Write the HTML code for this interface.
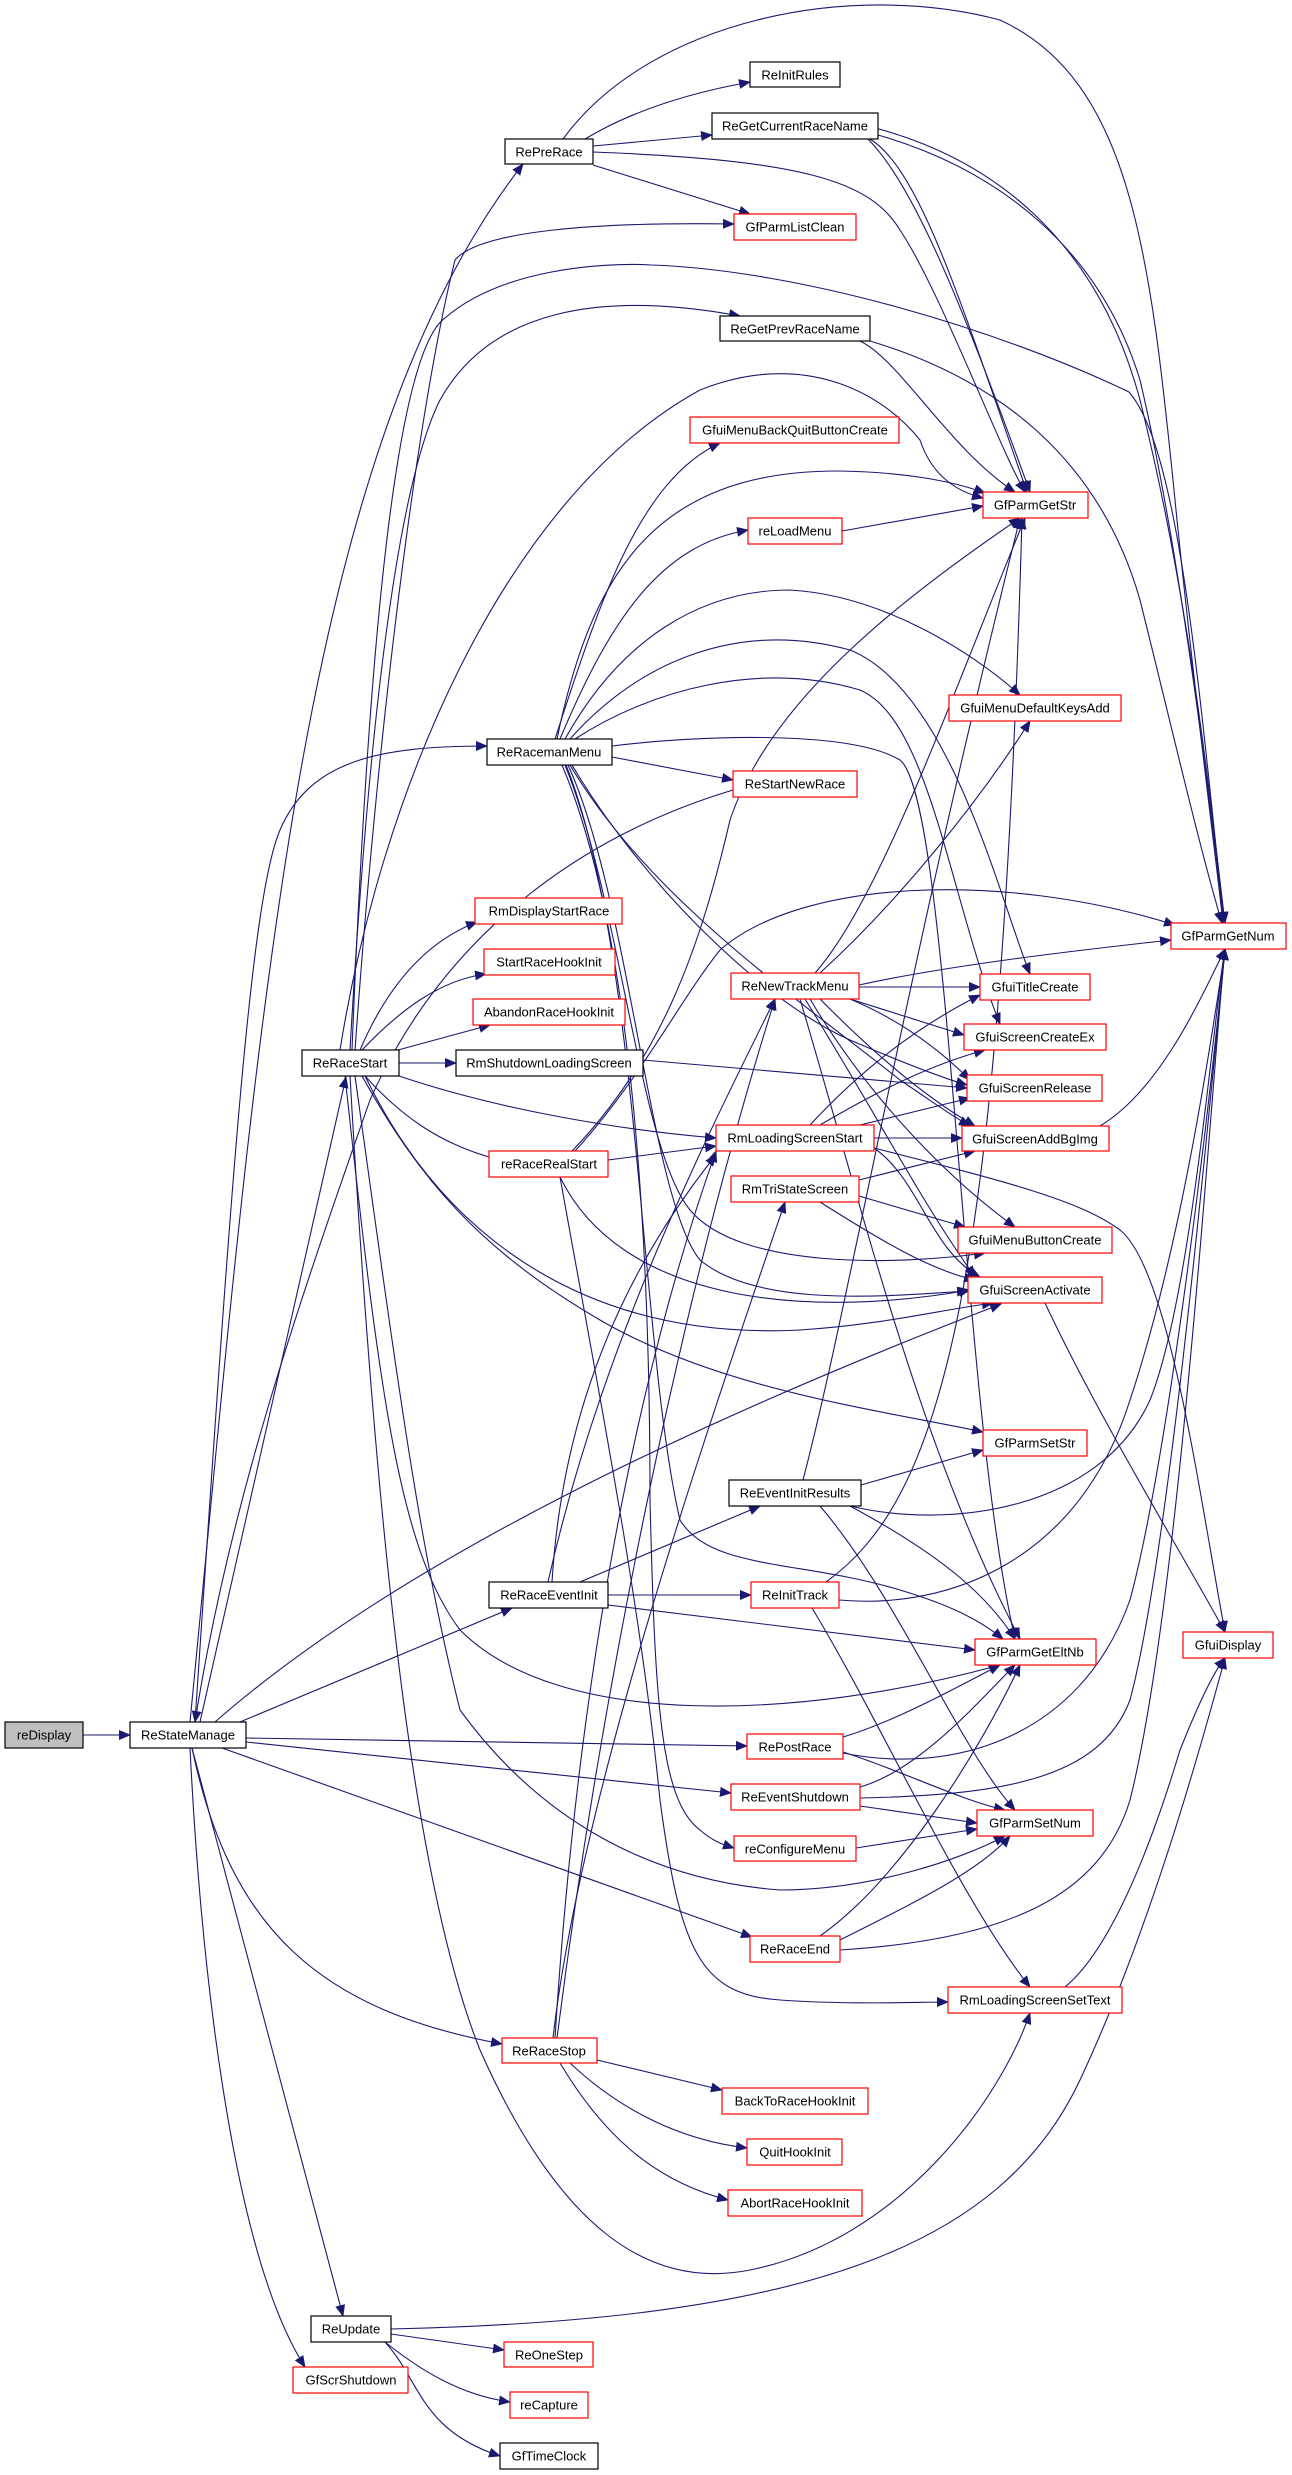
<!DOCTYPE html>
<html><head><meta charset="utf-8"><style>
html,body{margin:0;padding:0;background:#fff;}
svg{display:block;}
text{font-family:"Liberation Sans",Arial,sans-serif;font-size:13px;fill:#000;}
.e{fill:none;stroke:#191970;stroke-width:1.1;marker-end:url(#a);}
.r{fill:#fff;stroke:#ff0000;stroke-width:1.2;}
.b{fill:#fff;stroke:#000;stroke-width:1.2;}
.g{fill:#bfbfbf;stroke:#000;stroke-width:1.2;}
</style></head><body>
<svg width="1292" height="2475" viewBox="0 0 1292 2475" xmlns="http://www.w3.org/2000/svg">
<defs><marker id="a" markerUnits="userSpaceOnUse" markerWidth="12" markerHeight="10" refX="11" refY="5" orient="auto"><path d="M0,0 L12,5 L0,10 z" fill="#191970"/></marker></defs>
<g>
<path class="e" d="M83,1735 L130,1735"/>
<path class="e" d="M190,1722 C260,1000 300,450 523,164"/>
<path class="e" d="M195,1722 C230,1200 250,900 280,830 C310,760 380,746 487,746"/>
<path class="e" d="M200,1722 L346,1077"/>
<path class="e" d="M240,1722 L512,1608"/>
<path class="e" d="M215,1722 C400,1560 700,1420 1001,1304"/>
<path class="e" d="M246,1738 L747,1746"/>
<path class="e" d="M246,1742 L731,1793"/>
<path class="e" d="M222,1748 L752,1937"/>
<path class="e" d="M192,1748 C230,1930 320,2010 502,2044"/>
<path class="e" d="M192,1748 L343,2316"/>
<path class="e" d="M190,1748 C200,1950 230,2250 305,2367"/>
<path class="e" d="M391,2329 C800,2320 1000,2250 1080,2080 C1150,1930 1200,1750 1225,1658"/>
<path class="e" d="M391,2334 L504,2350"/>
<path class="e" d="M385,2342 C420,2370 460,2395 510,2402"/>
<path class="e" d="M385,2342 C420,2380 420,2430 500,2456"/>
<path class="e" d="M597,2060 L722,2090"/>
<path class="e" d="M570,2063 C620,2110 680,2140 747,2148"/>
<path class="e" d="M560,2063 C600,2130 650,2180 728,2200"/>
<path class="e" d="M553,2038 C580,1800 700,1450 785,1202"/>
<path class="e" d="M555,2038 C570,1800 610,1450 716,1151"/>
<path class="e" d="M557,2038 C600,1700 680,1300 775,999"/>
<path class="e" d="M585,139 Q650,100 750,82"/>
<path class="e" d="M593,146 L712,135"/>
<path class="e" d="M593,165 L750,214"/>
<path class="e" d="M593,152 C800,160 870,180 900,230 C940,290 1000,450 1025,492"/>
<path class="e" d="M563,139 C650,20 850,-20 1000,20 C1130,80 1150,250 1175,500 C1195,700 1215,850 1223,923"/>
<path class="e" d="M840,120 C900,140 960,300 1030,492"/>
<path class="e" d="M840,120 C1000,150 1100,250 1140,400 C1190,600 1210,800 1225,923"/>
<path class="e" d="M870,139 C920,170 960,300 1027,492"/>
<path class="e" d="M878,135 C1000,170 1100,250 1140,380 C1180,550 1210,800 1224,923"/>
<path class="e" d="M860,341 C900,360 950,450 1015,492"/>
<path class="e" d="M870,341 C1000,380 1100,460 1140,600 C1170,720 1200,850 1222,923"/>
<path class="e" d="M555,739 C600,600 640,480 720,443"/>
<path class="e" d="M557,739 C590,580 650,470 840,471 C900,472 950,480 985,493"/>
<path class="e" d="M842,531 L983,506"/>
<path class="e" d="M560,739 C610,620 660,545 748,530"/>
<path class="e" d="M565,739 C620,640 700,590 790,590 C880,595 970,650 1020,695"/>
<path class="e" d="M570,739 C640,660 740,620 850,650 C950,690 1000,900 1030,974"/>
<path class="e" d="M575,739 C650,690 760,660 860,690 C930,720 950,900 1000,1024"/>
<path class="e" d="M612,746 C700,735 850,730 900,760 C950,800 960,1400 1015,1639"/>
<path class="e" d="M612,757 L733,780"/>
<path class="e" d="M565,765 C620,900 640,1150 690,1210 C740,1270 900,1265 985,1253"/>
<path class="e" d="M568,765 C630,900 650,1200 700,1260 C760,1310 900,1295 968,1291"/>
<path class="e" d="M572,765 C640,880 760,1000 850,1040 C920,1070 950,1080 967,1085"/>
<path class="e" d="M570,765 C650,900 800,1000 900,1080 C930,1100 950,1115 970,1126"/>
<path class="e" d="M562,765 C640,950 650,1300 650,1500 C655,1700 660,1800 700,1830 C715,1843 725,1845 734,1848"/>
<path class="e" d="M566,765 C640,950 640,1350 680,1520 C710,1570 800,1560 900,1590 C950,1605 980,1620 1003,1639"/>
<path class="e" d="M733,790 C600,830 450,920 370,1100 C300,1300 230,1500 195,1722"/>
<path class="e" d="M360,1050 C390,980 430,940 477,922"/>
<path class="e" d="M362,1050 C400,1010 440,980 486,974"/>
<path class="e" d="M398,1050 L490,1025"/>
<path class="e" d="M399,1063 L456,1063"/>
<path class="e" d="M365,1076 C400,1115 440,1145 500,1160"/>
<path class="e" d="M399,1076 C500,1110 620,1130 716,1138"/>
<path class="e" d="M362,1076 C420,1180 480,1250 600,1320 C720,1390 880,1410 983,1432"/>
<path class="e" d="M365,1076 C450,1250 600,1340 800,1330 C880,1325 940,1310 993,1303"/>
<path class="e" d="M355,1050 C380,700 420,400 455,260 C480,230 600,222 734,224"/>
<path class="e" d="M352,1050 C370,600 400,350 445,318 C500,270 600,262 651,265 C800,270 1000,330 1129,392 C1180,450 1200,700 1224,923"/>
<path class="e" d="M350,1050 C370,700 400,480 440,400 C490,310 600,290 740,316"/>
<path class="e" d="M340,1050 C380,800 500,500 700,390 C800,350 880,390 920,440 C930,470 950,490 983,498"/>
<path class="e" d="M355,1076 C400,1400 420,1550 460,1710 C540,1820 650,1880 780,1890 C870,1890 960,1860 1005,1836"/>
<path class="e" d="M350,1076 C380,1600 420,1900 480,2050 C560,2230 650,2290 750,2270 C900,2240 1000,2100 1030,2013"/>
<path class="e" d="M345,1076 C380,1400 400,1550 460,1630 C560,1730 800,1720 1000,1665"/>
<path class="e" d="M643,1060 L967,1088"/>
<path class="e" d="M859,985 C950,965 1080,950 1171,940"/>
<path class="e" d="M859,987 L980,987"/>
<path class="e" d="M850,999 L964,1035"/>
<path class="e" d="M850,999 C900,1020 940,1050 970,1080"/>
<path class="e" d="M820,999 C880,1060 930,1100 975,1126"/>
<path class="e" d="M810,999 C870,1100 950,1180 1015,1227"/>
<path class="e" d="M805,999 C880,1120 920,1200 975,1277"/>
<path class="e" d="M800,999 C860,1200 920,1450 1020,1639"/>
<path class="e" d="M815,973 C880,900 950,700 1025,518"/>
<path class="e" d="M820,973 C900,900 980,800 1030,721"/>
<path class="e" d="M810,1125 C870,1060 930,1020 980,995"/>
<path class="e" d="M820,1125 C880,1090 930,1065 985,1050"/>
<path class="e" d="M860,1125 L970,1098"/>
<path class="e" d="M874,1138 L962,1138"/>
<path class="e" d="M874,1148 C920,1180 930,1250 980,1277"/>
<path class="e" d="M874,1148 C1000,1180 1080,1200 1120,1230 C1170,1270 1200,1500 1225,1632"/>
<path class="e" d="M608,1160 L716,1146"/>
<path class="e" d="M572,1151 C660,1060 700,950 730,820 C770,700 900,600 1020,518"/>
<path class="e" d="M575,1151 C640,1080 680,1000 720,950 C800,880 1000,870 1175,925"/>
<path class="e" d="M560,1177 C620,1300 800,1320 970,1290"/>
<path class="e" d="M560,1177 C600,1400 640,1600 660,1800 C680,1950 700,1995 780,2000 C850,2005 920,2002 948,2002"/>
<path class="e" d="M859,1180 L975,1151"/>
<path class="e" d="M859,1196 L965,1227"/>
<path class="e" d="M820,1202 C880,1240 930,1270 975,1280"/>
<path class="e" d="M1045,1303 C1100,1420 1180,1550 1225,1632"/>
<path class="e" d="M1100,1126 C1160,1090 1200,1000 1225,949"/>
<path class="e" d="M861,1485 L983,1450"/>
<path class="e" d="M803,1480 C850,1300 900,1000 1020,518"/>
<path class="e" d="M850,1506 C950,1530 1100,1510 1150,1400 C1190,1300 1210,1050 1225,949"/>
<path class="e" d="M850,1506 C950,1560 990,1600 1015,1639"/>
<path class="e" d="M820,1506 C900,1600 960,1750 1015,1810"/>
<path class="e" d="M580,1582 L760,1506"/>
<path class="e" d="M608,1595 L751,1595"/>
<path class="e" d="M608,1605 L975,1650"/>
<path class="e" d="M552,1582 C560,1450 600,1300 716,1155"/>
<path class="e" d="M548,1582 C600,1350 700,1150 775,999"/>
<path class="e" d="M839,1600 C950,1610 1080,1560 1130,1400 C1180,1250 1210,1050 1225,949"/>
<path class="e" d="M826,1582 C940,1500 1000,1300 1022,518"/>
<path class="e" d="M812,1608 C880,1720 960,1900 1030,1987"/>
<path class="e" d="M843,1737 C900,1720 970,1680 1000,1665"/>
<path class="e" d="M843,1752 C900,1770 960,1800 1005,1810"/>
<path class="e" d="M843,1753 C950,1775 1080,1740 1130,1600 C1170,1450 1210,1100 1225,949"/>
<path class="e" d="M860,1787 C920,1770 980,1700 1015,1665"/>
<path class="e" d="M860,1806 L977,1823"/>
<path class="e" d="M860,1798 C1000,1795 1100,1780 1130,1700 C1170,1550 1210,1100 1225,949"/>
<path class="e" d="M856,1848 L977,1829"/>
<path class="e" d="M820,1936 C900,1880 980,1750 1020,1665"/>
<path class="e" d="M840,1940 C920,1900 980,1870 1010,1836"/>
<path class="e" d="M840,1950 C1000,1940 1100,1900 1130,1800 C1180,1600 1210,1100 1225,949"/>
<path class="e" d="M1065,1987 C1110,1950 1150,1850 1180,1750 C1200,1700 1215,1670 1225,1658"/>
</g>
<g text-anchor="middle" dominant-baseline="central">
<rect class="b" x="505" y="139" width="88" height="25"/><text x="549" y="152">RePreRace</text>
<rect class="b" x="750" y="62" width="90" height="25"/><text x="795" y="75">ReInitRules</text>
<rect class="b" x="712" y="113" width="166" height="26"/><text x="795" y="126">ReGetCurrentRaceName</text>
<rect class="r" x="734" y="214" width="122" height="26"/><text x="795" y="227">GfParmListClean</text>
<rect class="b" x="720" y="316" width="150" height="25"/><text x="795" y="329">ReGetPrevRaceName</text>
<rect class="r" x="690" y="417" width="209" height="26"/><text x="795" y="430">GfuiMenuBackQuitButtonCreate</text>
<rect class="r" x="983" y="492" width="105" height="26"/><text x="1035" y="505">GfParmGetStr</text>
<rect class="r" x="748" y="518" width="94" height="26"/><text x="795" y="531">reLoadMenu</text>
<rect class="r" x="949" y="695" width="172" height="26"/><text x="1035" y="708">GfuiMenuDefaultKeysAdd</text>
<rect class="b" x="487" y="739" width="125" height="26"/><text x="549" y="752">ReRacemanMenu</text>
<rect class="r" x="733" y="771" width="124" height="26"/><text x="795" y="784">ReStartNewRace</text>
<rect class="r" x="475" y="898" width="147" height="26"/><text x="549" y="911">RmDisplayStartRace</text>
<rect class="r" x="484" y="949" width="131" height="26"/><text x="549" y="962">StartRaceHookInit</text>
<rect class="r" x="473" y="999" width="152" height="26"/><text x="549" y="1012">AbandonRaceHookInit</text>
<rect class="b" x="302" y="1050" width="97" height="26"/><text x="350" y="1063">ReRaceStart</text>
<rect class="b" x="456" y="1050" width="187" height="26"/><text x="549" y="1063">RmShutdownLoadingScreen</text>
<rect class="r" x="731" y="973" width="128" height="26"/><text x="795" y="986">ReNewTrackMenu</text>
<rect class="r" x="1171" y="923" width="115" height="26"/><text x="1228" y="936">GfParmGetNum</text>
<rect class="r" x="980" y="974" width="110" height="26"/><text x="1035" y="987">GfuiTitleCreate</text>
<rect class="r" x="964" y="1024" width="142" height="26"/><text x="1035" y="1037">GfuiScreenCreateEx</text>
<rect class="r" x="967" y="1075" width="135" height="26"/><text x="1035" y="1088">GfuiScreenRelease</text>
<rect class="r" x="962" y="1126" width="147" height="25"/><text x="1035" y="1139">GfuiScreenAddBgImg</text>
<rect class="r" x="716" y="1125" width="158" height="26"/><text x="795" y="1138">RmLoadingScreenStart</text>
<rect class="r" x="489" y="1151" width="119" height="26"/><text x="549" y="1164">reRaceRealStart</text>
<rect class="r" x="731" y="1176" width="128" height="26"/><text x="795" y="1189">RmTriStateScreen</text>
<rect class="r" x="958" y="1227" width="154" height="26"/><text x="1035" y="1240">GfuiMenuButtonCreate</text>
<rect class="r" x="968" y="1277" width="134" height="26"/><text x="1035" y="1290">GfuiScreenActivate</text>
<rect class="r" x="983" y="1430" width="104" height="26"/><text x="1035" y="1443">GfParmSetStr</text>
<rect class="b" x="729" y="1480" width="132" height="26"/><text x="795" y="1493">ReEventInitResults</text>
<rect class="b" x="489" y="1582" width="119" height="26"/><text x="549" y="1595">ReRaceEventInit</text>
<rect class="r" x="751" y="1582" width="88" height="26"/><text x="795" y="1595">ReInitTrack</text>
<rect class="r" x="975" y="1639" width="121" height="26"/><text x="1035" y="1652">GfParmGetEltNb</text>
<rect class="r" x="1183" y="1632" width="90" height="26"/><text x="1228" y="1645">GfuiDisplay</text>
<rect class="g" x="5" y="1722" width="78" height="26"/><text x="44" y="1735">reDisplay</text>
<rect class="b" x="130" y="1722" width="116" height="26"/><text x="188" y="1735">ReStateManage</text>
<rect class="r" x="747" y="1734" width="96" height="25"/><text x="795" y="1747">RePostRace</text>
<rect class="r" x="731" y="1784" width="129" height="26"/><text x="795" y="1797">ReEventShutdown</text>
<rect class="r" x="977" y="1810" width="116" height="26"/><text x="1035" y="1823">GfParmSetNum</text>
<rect class="r" x="734" y="1836" width="122" height="25"/><text x="795" y="1849">reConfigureMenu</text>
<rect class="r" x="750" y="1936" width="90" height="26"/><text x="795" y="1949">ReRaceEnd</text>
<rect class="r" x="948" y="1987" width="174" height="26"/><text x="1035" y="2000">RmLoadingScreenSetText</text>
<rect class="r" x="502" y="2038" width="95" height="25"/><text x="549" y="2051">ReRaceStop</text>
<rect class="r" x="722" y="2088" width="146" height="26"/><text x="795" y="2101">BackToRaceHookInit</text>
<rect class="r" x="747" y="2139" width="95" height="26"/><text x="795" y="2152">QuitHookInit</text>
<rect class="r" x="728" y="2190" width="134" height="26"/><text x="795" y="2203">AbortRaceHookInit</text>
<rect class="b" x="311" y="2316" width="80" height="26"/><text x="351" y="2329">ReUpdate</text>
<rect class="r" x="504" y="2342" width="89" height="25"/><text x="549" y="2355">ReOneStep</text>
<rect class="r" x="293" y="2367" width="115" height="26"/><text x="351" y="2380">GfScrShutdown</text>
<rect class="r" x="510" y="2392" width="78" height="26"/><text x="549" y="2405">reCapture</text>
<rect class="b" x="500" y="2443" width="98" height="26"/><text x="549" y="2456">GfTimeClock</text>
</g>
</svg>
</body></html>
